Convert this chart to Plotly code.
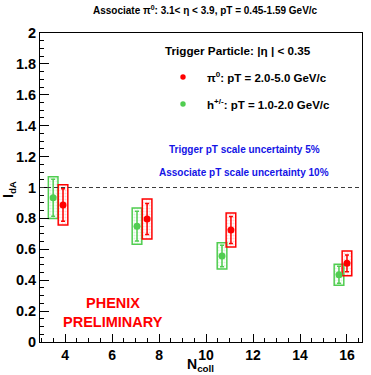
import plotly.graph_objects as go

# ---- data ----
ncoll_pi0 = [3.91, 7.49, 11.06, 16.0]
ida_pi0 = [0.887, 0.796, 0.725, 0.509]
stat_pi0 = [0.105, 0.100, 0.087, 0.054]
sys_pi0 = [0.130, 0.130, 0.110, 0.080]

ncoll_h = [3.49, 7.06, 10.68, 15.66]
ida_h = [0.934, 0.750, 0.557, 0.436]
stat_h = [0.120, 0.097, 0.070, 0.055]
sys_h = [0.135, 0.117, 0.085, 0.068]

reference_level = 1.0
x_ticks = [4, 6, 8, 10, 12, 14, 16]
y_ticks = [0, 0.2, 0.4, 0.6, 0.8, 1, 1.2, 1.4, 1.6, 1.8, 2]

RED = "rgb(255,0,0)"
GREEN = "rgb(80,205,80)"
FONT = "Liberation Sans"

W, H = 371, 375
L, R, T, B = 40, 9, 33, 33
PW, PH = W - L - R, H - T - B


def px(x):
    return (x - L) / PW


def py(y):
    return (H - B - y) / PH


fig = go.Figure()


def add_series(xs, ys, stat, sys, color, fill, fg):
    fig.add_trace(go.Bar(
        x=xs, y=[2 * s for s in sys], base=[y - s for y, s in zip(ys, sys)],
        width=0.41,
        marker=dict(color=fill, line=dict(color=color, width=1.5),
                    pattern=dict(shape=".", fgcolor=fg, bgcolor=fill, size=3, solidity=0.35)),
        showlegend=False, hoverinfo="skip"))
    fig.add_trace(go.Scatter(
        x=xs, y=ys, mode="markers",
        marker=dict(color=color, size=7, symbol="circle"),
        error_y=dict(type="data", array=stat, color=color, thickness=1.5, width=2),
        showlegend=False))


add_series(ncoll_h, ida_h, stat_h, sys_h, GREEN, "rgba(255,255,255,0)", "rgba(80,205,80,0.45)")
add_series(ncoll_pi0, ida_pi0, stat_pi0, sys_pi0, RED, "rgba(255,255,255,0)", "rgba(255,0,0,0.35)")

fig.add_shape(type="line", xref="paper", yref="y", x0=0, x1=1,
              y0=reference_level, y1=reference_level,
              line=dict(color="rgb(60,60,60)", width=1, dash="4px,3px"))

ann = []


def text(x, y, t, size, color="black", anchor="center", bold=True, angle=0):
    ann.append(dict(xref="paper", yref="paper", x=px(x), y=py(y), text=t,
                    showarrow=False, xanchor=anchor, yanchor="middle", textangle=angle,
                    font=dict(family=FONT, size=size, color=color,
                              weight="bold" if bold else "normal")))


text(205, 10, "Associate π<sup>0</sup>: 3.1&lt; η &lt; 3.9, pT = 0.45-1.59 GeV/c", 10)
text(238, 50, "Trigger Particle: |η | &lt; 0.35", 11.7)
text(205, 77, "π<sup>0</sup>: pT = 2.0-5.0 GeV/c", 11.5, anchor="left")
text(205, 104, "h<sup>+/-</sup>: pT = 1.0-2.0 GeV/c", 11.5, anchor="left")
text(244, 149, "Trigger pT scale uncertainty 5%", 10, color="rgb(20,20,230)")
text(244, 173, "Associate pT scale uncertainty 10%", 10, color="rgb(20,20,230)")
text(113, 303, "PHENIX", 14.5, color=RED)
text(113, 322, "PRELIMINARY", 14.5, color=RED)
text(200, 365, "N<sub>coll</sub>", 14)
text(9, 190, "I<sub>dA</sub>", 14, angle=-90)

for yy, c in [(77, RED), (104, GREEN)]:
    fig.add_shape(type="circle", xref="paper", yref="paper", xsizemode="pixel", ysizemode="pixel",
                  xanchor=px(183), yanchor=py(yy), x0=-2.7, x1=2.7, y0=-2.7, y1=2.7,
                  fillcolor=c, line=dict(width=0))

fig.update_layout(
    width=W, height=H, margin=dict(l=L, r=R, t=T, b=B),
    paper_bgcolor="white", plot_bgcolor="white",
    barmode="overlay", annotations=ann, showlegend=False,
    font=dict(family=FONT),
)
fig.update_xaxes(range=[2.93, 16.64], tickvals=x_ticks, ticks="inside", ticklen=8, tickcolor="black",
                 showline=True, linecolor="black", linewidth=1, mirror=True, showgrid=False, zeroline=False,
                 tickfont=dict(family=FONT, size=14, weight="bold", color="black"),
                 minor=dict(dtick=0.5, tick0=0, ticks="inside", ticklen=4, tickcolor="black"))
fig.update_yaxes(range=[0, 2], tickvals=y_ticks, ticktext=["0", "0.2", "0.4", "0.6", "0.8", "1", "1.2", "1.4", "1.6", "1.8", "2"],
                 ticks="inside", ticklen=9, tickcolor="black",
                 showline=True, linecolor="black", linewidth=1, mirror=True, showgrid=False, zeroline=False,
                 tickfont=dict(family=FONT, size=14.5, weight="bold", color="black"),
                 minor=dict(dtick=0.05, tick0=0, ticks="inside", ticklen=4, tickcolor="black"))

fig.write_html("out.html", config={"displayModeBar": False},
               post_script="document.body.style.margin='0';document.body.style.overflow='hidden';")
